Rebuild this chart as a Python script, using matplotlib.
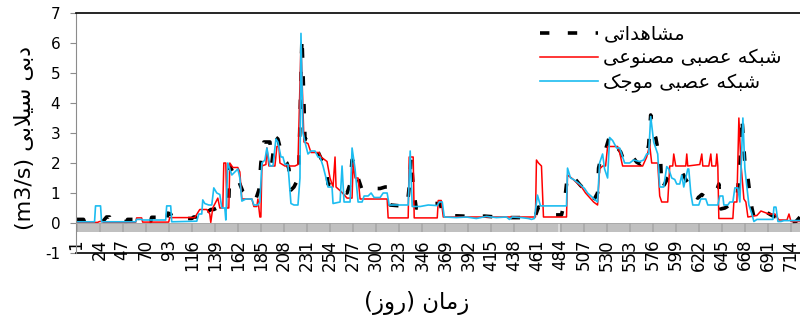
import numpy as np
import matplotlib
matplotlib.use('Agg')
import matplotlib.pyplot as plt

plt.rcParams['font.family'] = ['DejaVu Sans']
plt.rcParams['axes.unicode_minus'] = False

# === Data (day index, discharge m3/s) ===
obs_day = [1, 8, 9, 26, 28, 31, 34, 35, 51, 52,
           61, 62, 75, 76, 84, 85, 91, 92, 95, 97,
           116, 118, 122, 125, 128, 130, 133, 135, 138, 141,
           144, 147, 150, 153, 154, 157, 161, 164, 167, 171,
           176, 180, 183, 185, 188, 194, 196, 199, 202, 205,
           208, 211, 213, 215, 218, 221, 223, 226, 229, 233,
           236, 241, 245, 250, 252, 256, 261, 266, 271, 274,
           276, 279, 282, 286, 292, 299, 304, 309, 312, 314,
           331, 333, 335, 337, 340, 350, 357, 364, 366, 368,
           371, 387, 400, 408, 420, 433, 445, 451, 458, 462,
           466, 472, 478, 485, 488, 491, 495, 499, 504, 509,
           513, 517, 521, 522, 526, 529, 533, 537, 541, 544,
           547, 551, 556, 560, 564, 569, 572, 574, 577, 579,
           582, 584, 585, 588, 591, 594, 597, 601, 606, 609,
           612, 615, 618, 621, 625, 629, 633, 636, 640, 642,
           644, 648, 653, 657, 660, 663, 665, 667, 668, 670,
           673, 675, 677, 681, 684, 687, 691, 695, 699, 702,
           705, 709, 715, 719, 723]
obs_q = [0.12, 0.12, 0.03, 0.03, 0.08, 0.2, 0.2, 0.05, 0.05, 0.12,
         0.12, 0.05, 0.05, 0.19, 0.19, 0.05, 0.05, 0.33, 0.3, 0.15,
         0.15, 0.2, 0.2, 0.35, 0.53, 0.4, 0.4, 0.45, 0.45, 0.5,
         0.6, 0.6, 0.65, 0.75, 1.9, 1.7, 1.75, 1.3, 1.05, 0.9,
         0.75, 0.8, 1.1, 2.0, 2.7, 2.7, 2.0, 2.88, 2.8, 2.4,
         2.1, 2.0, 1.8, 1.1, 1.2, 1.4, 2.0, 6.2, 2.8, 2.75,
         2.5, 2.45, 2.15, 2.0, 1.3, 1.27, 1.25, 1.05, 1.0, 1.3,
         2.1, 2.0, 1.5, 1.1, 1.05, 1.15, 1.15, 1.2, 1.2, 0.6,
         0.55, 1.2, 2.2, 1.2, 0.5, 0.55, 0.65, 0.65, 0.35, 0.3,
         0.25, 0.23, 0.2, 0.23, 0.2, 0.18, 0.18, 0.18, 0.15, 0.53,
         0.5, 0.35, 0.27, 0.27, 0.7, 1.6, 1.55, 1.45, 1.25, 1.1,
         0.95, 0.75, 1.0, 1.83, 2.4, 2.45, 2.9, 2.65, 2.5, 2.37,
         2.1, 2.3, 2.2, 2.03, 1.95, 2.1, 2.6, 3.6, 3.0, 2.85,
         2.3, 2.0, 1.15, 1.3, 1.5, 1.6, 1.7, 1.6, 1.65, 1.45,
         1.3, 1.0, 0.9, 0.83, 0.95, 0.85, 0.9, 0.93, 1.1, 1.3,
         0.47, 0.5, 0.6, 0.7, 0.75, 2.0, 3.55, 2.5, 2.0, 1.8,
         0.95, 0.5, 0.2, 0.25, 0.3, 0.43, 0.33, 0.25, 0.2, 0.2,
         0.17, 0.05, 0.02, 0.05, 0.2]

ann_day = [1, 22, 24, 27, 28, 60, 61, 66, 67, 93,
           94, 119, 124, 131, 134, 135, 137, 142, 144, 147,
           148, 150, 151, 153, 154, 157, 162, 164, 166, 176,
           178, 181, 182, 184, 185, 186, 190, 191, 193, 199,
           201, 203, 204, 209, 219, 222, 225, 228, 232, 235,
           243, 245, 251, 254, 257, 259, 260, 265, 271, 276,
           277, 279, 282, 284, 311, 312, 332, 333, 337, 338,
           361, 362, 365, 367, 459, 460, 462, 465, 467, 490,
           491, 495, 500, 505, 509, 513, 517, 521, 523, 526,
           529, 531, 541, 543, 546, 556, 566, 570, 573, 575,
           581, 583, 585, 591, 593, 596, 597, 599, 609, 610,
           611, 623, 625, 626, 632, 634, 635, 639, 640, 641,
           642, 656, 657, 660, 662, 664, 667, 669, 671, 680,
           684, 688, 692, 698, 702, 710, 712, 714, 723]
ann_q = [0.02, 0.02, 0.05, 0.05, 0.02, 0.02, 0.17, 0.17, 0.03, 0.03,
         0.18, 0.18, 0.45, 0.45, 0.3, 0.02, 0.5, 0.83, 0.5, 0.5,
         2.0, 2.0, 0.5, 0.5, 2.0, 1.85, 1.85, 1.7, 0.8, 0.8,
         0.55, 0.55, 0.8, 0.2, 0.2, 1.9, 1.95, 2.5, 1.9, 1.9,
         2.55, 2.55, 2.0, 1.9, 1.9, 1.95, 6.0, 2.7, 2.65, 2.35,
         2.35, 2.2, 2.05, 1.5, 1.2, 2.2, 1.2, 1.05, 0.83, 0.83,
         2.0, 1.5, 1.5, 0.8, 0.8, 0.17, 0.17, 2.2, 2.2, 0.17,
         0.17, 0.75, 0.75, 0.2, 0.2, 2.1, 2.0, 1.9, 0.2, 0.2,
         1.6, 1.5, 1.35, 1.2, 1.0, 0.85, 0.7, 0.6, 1.8, 1.9,
         1.9, 2.55, 2.55, 2.35, 1.9, 1.9, 1.9, 2.2, 2.6, 2.0,
         2.0, 0.9, 0.7, 0.7, 1.9, 1.9, 2.3, 1.9, 1.9, 2.3,
         1.9, 1.95, 2.3, 1.9, 1.9, 2.3, 1.9, 1.9, 2.3, 1.9,
         0.15, 0.15, 0.7, 0.7, 3.5, 2.0, 0.8, 0.7, 0.2, 0.25,
         0.4, 0.35, 0.3, 0.3, 0.1, 0.1, 0.3, 0.05, 0.05]

wnn_day = [1, 19, 20, 25, 26, 60, 61, 66, 67, 90,
           91, 95, 96, 121, 123, 126, 127, 129, 133, 136,
           138, 141, 144, 146, 149, 150, 152, 156, 159, 162,
           164, 166, 170, 176, 178, 182, 184, 186, 189, 191,
           194, 197, 200, 202, 205, 207, 209, 212, 215, 218,
           222, 224, 225, 227, 229, 232, 235, 239, 242, 244,
           247, 250, 252, 256, 257, 264, 266, 268, 274, 276,
           279, 282, 286, 288, 292, 295, 298, 304, 307, 311,
           313, 332, 334, 336, 344, 352, 361, 363, 366, 368,
           380, 390, 400, 410, 420, 430, 433, 436, 445, 452,
           455, 458, 461, 464, 490, 491, 494, 497, 503, 508,
           511, 516, 521, 523, 526, 528, 531, 533, 536, 540,
           543, 545, 548, 553, 557, 563, 567, 570, 572, 574,
           577, 581, 583, 587, 590, 592, 595, 598, 600, 603,
           605, 607, 609, 611, 612, 614, 616, 622, 624, 629,
           631, 641, 643, 646, 647, 651, 653, 656, 658, 661,
           663, 666, 668, 670, 672, 675, 677, 680, 691, 696,
           697, 699, 701, 704, 707, 723]
wnn_q = [0.04, 0.04, 0.57, 0.57, 0.04, 0.04, 0.12, 0.12, 0.1, 0.1,
         0.57, 0.57, 0.04, 0.06, 0.3, 0.3, 0.77, 0.65, 0.6, 0.6,
         1.17, 1.0, 0.95, 0.5, 0.5, 0.1, 2.0, 1.6, 1.7, 1.8,
         1.5, 0.73, 0.8, 0.8, 0.6, 0.6, 0.7, 2.0, 2.1, 2.5,
         1.9, 1.9, 2.8, 2.7, 2.2, 2.2, 1.95, 1.95, 0.65, 0.6,
         0.6, 1.5, 6.32, 3.0, 2.7, 2.3, 2.4, 2.4, 2.2, 2.2,
         1.9, 1.5, 1.2, 1.2, 0.65, 0.7, 1.9, 0.7, 0.7, 2.5,
         1.8, 0.7, 0.7, 0.9, 0.9, 1.0, 0.85, 0.85, 1.0, 1.0,
         0.6, 0.6, 2.4, 0.55, 0.55, 0.6, 0.58, 0.7, 0.7, 0.2,
         0.18, 0.2, 0.15, 0.22, 0.18, 0.2, 0.12, 0.2, 0.18, 0.15,
         0.12, 0.15, 0.93, 0.57, 0.57, 1.83, 1.5, 1.45, 1.3, 1.15,
         1.0, 0.85, 0.7, 2.0, 2.3, 1.8, 1.5, 2.85, 2.75, 2.5,
         2.5, 2.3, 2.0, 2.0, 2.1, 2.05, 2.1, 2.3, 2.3, 3.55,
         2.7, 2.3, 1.2, 1.2, 1.88, 1.8, 1.5, 1.45, 1.3, 1.3,
         1.6, 1.2, 1.5, 1.8, 1.8, 1.0, 0.6, 0.6, 0.8, 0.8,
         0.6, 0.6, 0.9, 0.9, 0.6, 0.6, 0.7, 0.7, 1.17, 1.17,
         0.7, 3.5, 1.8, 1.2, 0.6, 0.3, 0.05, 0.12, 0.12, 0.12,
         0.53, 0.53, 0.05, 0.05, 0.08, 0.08]

xtick_days = np.arange(1, 715, 23)
yticks = np.arange(-1, 8)

# === Persian text: matplotlib has no shaping, so use presentation forms ===
FORMS = {
    'ا': ('\uFE8D', '\uFE8E', None, None),
    'ب': ('\uFE8F', '\uFE90', '\uFE91', '\uFE92'),
    'ت': ('\uFE95', '\uFE96', '\uFE97', '\uFE98'),
    'ج': ('\uFE9D', '\uFE9E', '\uFE9F', '\uFEA0'),
    'د': ('\uFEA9', '\uFEAA', None, None),
    'ر': ('\uFEAD', '\uFEAE', None, None),
    'ز': ('\uFEAF', '\uFEB0', None, None),
    'س': ('\uFEB1', '\uFEB2', '\uFEB3', '\uFEB4'),
    'ش': ('\uFEB5', '\uFEB6', '\uFEB7', '\uFEB8'),
    'ص': ('\uFEB9', '\uFEBA', '\uFEBB', '\uFEBC'),
    'ع': ('\uFEC9', '\uFECA', '\uFECB', '\uFECC'),
    'ل': ('\uFEDD', '\uFEDE', '\uFEDF', '\uFEE0'),
    'م': ('\uFEE1', '\uFEE2', '\uFEE3', '\uFEE4'),
    'ن': ('\uFEE5', '\uFEE6', '\uFEE7', '\uFEE8'),
    'ه': ('\uFEE9', '\uFEEA', '\uFEEB', '\uFEEC'),
    'و': ('\uFEED', '\uFEEE', None, None),
    'ک': ('\uFB8E', '\uFB8F', '\uFB90', '\uFB91'),
    'ی': ('\uFBFC', '\uFBFD', '\uFBFE', '\uFBFF'),
}


def rtl(s):
    out = []
    i = 0
    while i < len(s):
        ch = s[i]
        if ch not in FORMS:
            out.append(ch)
            i += 1
            continue
        prev = s[i - 1] if i > 0 else ''
        joins_prev = prev in FORMS and FORMS[prev][2] is not None
        if ch == 'ل' and i + 1 < len(s) and s[i + 1] == 'ا':
            out.append('\uFEFC' if joins_prev else '\uFEFB')
            i += 2
            continue
        nxt = s[i + 1] if i + 1 < len(s) else ''
        joins_next = FORMS[ch][2] is not None and nxt in FORMS
        if joins_prev and joins_next:
            f = 3
        elif joins_next:
            f = 2
        elif joins_prev:
            f = 1
        else:
            f = 0
        out.append(FORMS[ch][f])
        i += 1
    return ''.join(out)[::-1]


lbl_obs = rtl('مشاهداتی')
lbl_ann = rtl('شبکه عصبی مصنوعی')
lbl_wnn = rtl('شبکه عصبی موجک')
ylab = '(m3/s) ' + rtl('دبی سیلابی')
xlab = '(' + rtl('روز') + ') ' + rtl('زمان')

# === Plot ===
fig = plt.figure(figsize=(8, 3.2), dpi=100)
ax = fig.add_axes([76 / 800, 1 - 253 / 320, 724 / 800, 240 / 320])

ax.plot(obs_day, obs_q, color='black', lw=2.6, linestyle=(0, (2.6, 5.1)),
        label=lbl_obs)
ax.plot(ann_day, ann_q, color='#ff0000', lw=1.1, label=lbl_ann)
ax.plot(wnn_day, wnn_q, color='#1cbcf0', lw=1.2, label=lbl_wnn)

ax.set_xlim(0.5, 723)
ax.set_ylim(-1, 7)

ax.spines['right'].set_visible(False)
ax.spines['top'].set_color('black')
ax.spines['top'].set_linewidth(1.2)
ax.spines['left'].set_color('#8c8c8c')
ax.spines['bottom'].set_position(('data', 0))
ax.spines['bottom'].set_color('#a6a6a6')
ax.spines['bottom'].set_linewidth(0.6)
ax.axhline(-1, color='black', lw=1.2, clip_on=False)

ax.xaxis.remove_overlapping_locs = False
ax.set_xticks(xtick_days)
ax.set_xticks(np.arange(1, 724), minor=True)
ax.tick_params(axis='x', which='both', length=6.5, width=0.35, color='#6e6e6e',
               direction='out', pad=5)
ax.tick_params(axis='x', labelrotation=90, labelsize=12)
ax.set_yticks(yticks)
ax.tick_params(axis='y', length=4.3, width=0.8, color='#8c8c8c', labelsize=11, pad=7)

ax.legend(loc='upper left', bbox_to_anchor=(0.641, 0.952), frameon=False,
          fontsize=14, handlelength=3.0, handletextpad=0.26, labelspacing=0.26,
          borderpad=0, borderaxespad=0)

fig.text(25 / 800, 1 - 138 / 320, ylab, rotation=90, ha='center', va='center',
         fontsize=16)
fig.text(417 / 800, 1 - 303 / 320, xlab, ha='center', va='center', fontsize=16.5)

fig.savefig('out.png', dpi=100)
